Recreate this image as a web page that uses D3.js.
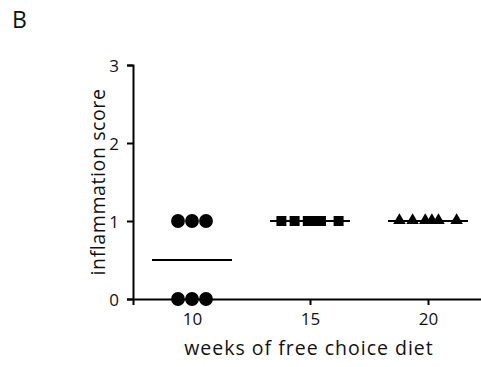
<!DOCTYPE html>
<html>
<head>
<meta charset="utf-8">
<script src="https://cdn.jsdelivr.net/npm/d3@7"></script>
<style>
  body { margin: 0; background: #fff; }
  svg { font-family: "Open Sans", sans-serif; }
</style>
</head>
<body>
<script>
// groups on the x axis
var weeks = ["10", "15", "20"];
// individual inflammation scores per group
var scores10 = [1, 1, 1, 0, 0, 0];
var scores15 = [1, 1, 1, 1, 1, 1];
var scores20 = [1, 1, 1, 1, 1, 1];
var yTicks = [0, 1, 2, 3];

var width = 481, height = 367;
var margin = { left: 133, top: 65, bottom: 68 };

var svg = d3.select("body").append("svg")
    .attr("width", width)
    .attr("height", height);

var x = d3.scalePoint()
    .domain(weeks)
    .range([margin.left, 487])
    .padding(0.5);

var y = d3.scaleLinear()
    .domain([0, 3])
    .range([height - margin.bottom, margin.top]);

// horizontal spread of the dots (in marker widths), as in the scatter plot
var spread = {
    "10": [-1, 0, 1, -1, 0, 1],
    "15": [-2.6, -1.4, -0.2, 0.4, 1, 2.6],
    "20": [-2.6, -1.4, -0.25, 0.35, 0.95, 2.6]
};
var step = { "10": 14, "15": 11, "20": 11 };

var groups = [
    { week: "10", values: scores10, shape: d3.symbolCircle, size: 150 },
    { week: "15", values: scores15, shape: d3.symbolSquare, size: 100 },
    { week: "20", values: scores20, shape: d3.symbolTriangle, size: 68 }
];

// axes
var yAxis = svg.append("g")
    .attr("transform", "translate(" + margin.left + ",0)")
    .call(d3.axisLeft(y).tickValues(yTicks).tickFormat(d3.format("d")).tickSize(6).tickPadding(8));

var xAxis = svg.append("g")
    .attr("transform", "translate(0," + y(0) + ")")
    .call(d3.axisBottom(x).tickSize(6).tickPadding(8));

[yAxis, xAxis].forEach(function (a) {
    a.select(".domain").attr("stroke", "#000").attr("stroke-width", 2);
    a.selectAll(".tick line").attr("stroke", "#000").attr("stroke-width", 2);
    a.selectAll(".tick text").attr("font-size", 17).attr("fill", "#111")
        .attr("font-family", "Open Sans, sans-serif");
});
yAxis.selectAll(".tick text").attr("dy", "0.36em");

// mean lines
svg.append("g").selectAll("line")
    .data(groups)
    .enter().append("line")
    .attr("x1", function (d) { return x(d.week) - 40; })
    .attr("x2", function (d) { return x(d.week) + 40; })
    .attr("y1", function (d) { return y(d3.mean(d.values)); })
    .attr("y2", function (d) { return y(d3.mean(d.values)); })
    .attr("stroke", "#000")
    .attr("stroke-width", 2);

// points
groups.forEach(function (g) {
    svg.append("g").selectAll("path")
        .data(g.values)
        .enter().append("path")
        .attr("d", d3.symbol().type(g.shape).size(g.size))
        .attr("transform", function (d, i) {
            var px = x(g.week) + spread[g.week][i] * step[g.week];
            var py = y(d);
            if (g.shape === d3.symbolTriangle) py -= 0.5;
            return "translate(" + px + "," + py + ")";
        })
        .attr("fill", "#000");
});

// axis titles
svg.append("text")
    .attr("x", 309)
    .attr("y", 355)
    .attr("text-anchor", "middle")
    .attr("font-size", 19.5)
    .attr("letter-spacing", 1)
    .attr("fill", "#111")
    .text("weeks of free choice diet");

svg.append("text")
    .attr("transform", "translate(105," + (y(1.5)) + ") rotate(-90)")
    .attr("text-anchor", "middle")
    .attr("font-size", 19.5)
    .attr("letter-spacing", 0.6)
    .attr("fill", "#111")
    .text("inflammation score");

// panel letter
svg.append("text")
    .attr("x", 12)
    .attr("y", 28)
    .attr("font-size", 23)
    .attr("fill", "#111")
    .text("B");
</script>
</body>
</html>
